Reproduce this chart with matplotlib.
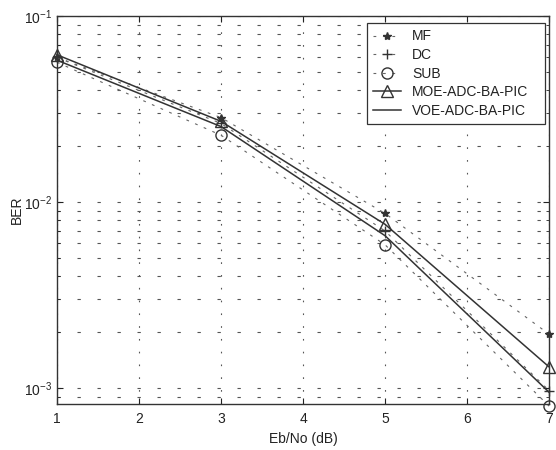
import numpy as np
import matplotlib.pyplot as plt
from matplotlib.ticker import LogLocator, FixedLocator, NullFormatter

plt.rcParams['font.family'] = ['Liberation Sans', 'DejaVu Sans']
plt.rcParams['mathtext.default'] = 'regular'

# Eb/No points (dB)
ebno = [1, 3, 5, 7]

# BER values
ber_mf = [0.060, 0.0285, 0.0087, 0.00195]
ber_dc = [0.060, 0.0265, 0.0070, 0.00097]
ber_sub = [0.0565, 0.0229, 0.0059, 0.00080]
ber_moe = [0.062, 0.0272, 0.0076, 0.0013]
ber_voe = [0.058, 0.0255, 0.0066, 0.00095]

ytick_vals = [1e-3, 1e-2, 1e-1]
ytick_labels = ['$10^{-3}$', '$10^{-2}$', '$10^{-1}$']

fig = plt.figure(figsize=(5.56, 4.5), dpi=100)
ax = fig.add_axes([0.1025, 0.102, 0.885, 0.862])

dash = (0, (2.5, 6))
lc = '#333333'
ax.semilogy(ebno, ber_mf, color='#666666', ls=dash, lw=0.8, marker='*',
            ms=6, mfc=lc, mec=lc, label='MF', clip_on=False)
ax.semilogy(ebno, ber_dc, color='#666666', ls=dash, lw=0.8, marker='+',
            ms=7, mec=lc, label='DC', clip_on=False)
ax.semilogy(ebno, ber_sub, color='#666666', ls=dash, lw=0.8, marker='o',
            ms=8, mfc='none', mec=lc, label='SUB', clip_on=False)
ax.semilogy(ebno, ber_moe, color=lc, ls='-', lw=1.1, marker='^',
            ms=8, mfc='none', mec=lc, label='MOE-ADC-BA-PIC', clip_on=False)
ax.semilogy(ebno, ber_voe, color=lc, ls='-', lw=1.1, label='VOE-ADC-BA-PIC')

ax.set_xlim(1, 7)
ax.set_ylim(8.2e-4, 0.1)
ax.set_xticks(range(1, 8))
ax.yaxis.set_major_locator(FixedLocator(ytick_vals))
ax.set_yticklabels(ytick_labels)
ax.yaxis.set_minor_locator(LogLocator(base=10, subs=np.arange(2, 10), numticks=10))
ax.yaxis.set_minor_formatter(NullFormatter())

ax.tick_params(which='both', direction='in', top=True, right=True,
               labelsize=10, colors='#222222')
ax.tick_params(which='major', length=4)
ax.tick_params(which='minor', length=2)
ax.tick_params(axis='x', pad=6)

ax.grid(True, which='major', axis='x', ls=(0, (1.5, 10)), color='#555555', lw=0.8)
ax.grid(True, which='both', axis='y', ls=(0, (3, 15)), color='#555555', lw=0.8)

for s in ax.spines.values():
    s.set_color('#333333')
    s.set_linewidth(1.0)

ax.set_xlabel('Eb/No (dB)', fontsize=10, color='#222222', labelpad=4)
ax.set_ylabel('BER', fontsize=10, color='#222222', labelpad=0)

leg = ax.legend(loc='upper left', bbox_to_anchor=(0.63, 0.982, 0.362, 0.0),
                mode='expand', fontsize=10, fancybox=False, framealpha=1,
                edgecolor='#333333', handlelength=2.0, labelspacing=0.33,
                borderaxespad=0, borderpad=0.45, handletextpad=0.8)
leg.get_frame().set_linewidth(0.9)
for t in leg.get_texts():
    t.set_color('#222222')

fig.savefig('out.png', dpi=100, facecolor='white')
